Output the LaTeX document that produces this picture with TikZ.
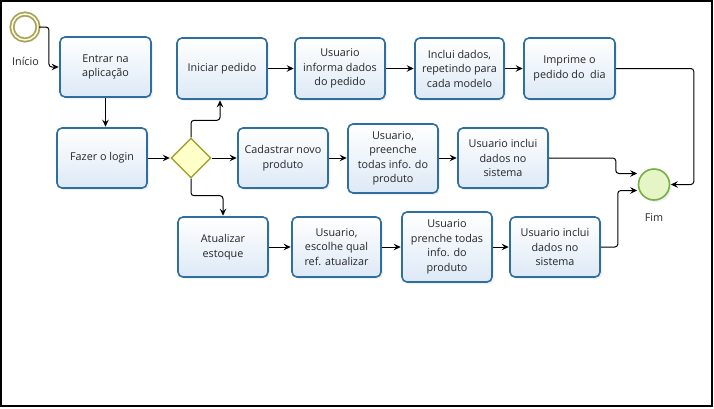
\documentclass[tikz,border=0pt]{standalone}
\usepackage{fontspec}
\setmainfont{Open Sans}
\usepackage{tikz}
\usetikzlibrary{shapes.geometric,shadows,arrows.meta}
\definecolor{taskline}{HTML}{2F6F9F}
\definecolor{taskfill}{HTML}{DDE9F6}
\definecolor{gateline}{HTML}{A3A335}
\definecolor{gatefill}{HTML}{FFFFC8}
\definecolor{startline}{HTML}{A9A15E}
\definecolor{endline}{HTML}{74B044}
\definecolor{endfill}{HTML}{E6F5C6}
\begin{document}
\begin{tikzpicture}[x=1pt,y=-1pt]
\tikzset{task/.style={ %
		draw=taskline,
		line width=1.6pt,
		rounded corners=5pt,
		top color=white,
		bottom color=taskfill,
		minimum width=90pt,
		minimum height=60pt,
		align=center,
		inner sep=2pt,
		text=black!85,
		font=\fontsize{10.8}{14.5}\selectfont,
		drop shadow={opacity=0.12,shadow xshift=2pt,shadow yshift=-2pt} %
	},
	flow/.style={ %
		-{Stealth[length=7pt,width=6.5pt,inset=2.5pt]},
		line width=1pt,
		rounded corners=3pt,
		shorten >=0.5pt %
	},
	gate/.style={ %
		diamond,
		draw=gateline,
		line width=1.4pt,
		fill=gatefill,
		inner sep=0pt,
		minimum size=40pt %
	},
	lbl/.style={font=\fontsize{10.8}{13}\selectfont,text=black!85}
}
\useasboundingbox (0,0) rectangle (714,408);
\draw[line width=1.5pt] (0.75,0.75) rectangle (712,406);
\node[circle,draw=startline,line width=1.8pt,double=gatefill!60,double distance=1.5pt,fill=white,minimum size=26pt,inner sep=0pt,drop shadow={opacity=0.12,shadow xshift=2pt,shadow yshift=-2pt}] (inicio) at (25,27) {};
\node[lbl] (inicioL) at (25.5,61) {Início};
\node[task,minimum width=91pt] (entrar) at (105.5,67) {Entrar na\\aplicação};
\node[task] (login) at (102,158) {Fazer o login};
\node[gate] (gw) at (191,158) {};
\node[task,minimum height=61pt] (iniciar) at (222,68.5) {Iniciar pedido};
\node[task,minimum height=61pt] (informa) at (340,68.5) {Usuario\\informa dados\\do pedido};
\node[task,minimum width=89pt,minimum height=61pt] (inclui) at (459.5,68.5) {Inclui dados,\\repetindo para\\cada modelo};
\node[task,minimum width=91pt,minimum height=61pt] (imprime) at (569.5,68.5) {Imprime o\\pedido do~ dia};
\node[task] (cadastrar) at (283,158) {Cadastrar novo\\produto};
\node[task,minimum height=69pt] (preenche) at (393,158.5) {Usuario,\\preenche\\todas info. do\\produto};
\node[task] (incluiB) at (503,158) {Usuario inclui\\dados no\\sistema};
\node[task] (atualizar) at (223,247) {Atualizar\\estoque};
\node[task,minimum width=89pt] (escolhe) at (336.5,247) {Usuario,\\escolhe qual\\ref. atualizar};
\node[task,minimum height=70pt] (prenche) at (447,247) {Usuario\\prenche todas\\info. do\\produto};
\node[task] (incluiC) at (555,247) {Usuario inclui\\dados no\\sistema};
\node[circle,draw=endline,line width=1.6pt,fill=endfill,minimum size=31pt,inner sep=0pt,drop shadow={opacity=0.12,shadow xshift=2pt,shadow yshift=-2pt}] (fim) at (654,184.5) {};
\node[lbl] (fimL) at (654,218) {Fim};
\draw[flow] (inicio.east) -- ++(10,0) |- (entrar.west);
\draw[flow] (entrar.south) -- (entrar.south |- login.north);
\draw[flow] (login.east) -- (gw.west);
\draw[flow] (gw.north) -- ++(0,-17) -| ([xshift=-2pt]iniciar.south);
\draw[flow] (gw.east) -- (cadastrar.west);
\draw[flow] (gw.south) -- ++(0,17) -| (atualizar.north);
\draw[flow] (iniciar.east) -- (informa.west);
\draw[flow] (informa.east) -- (inclui.west);
\draw[flow] (inclui.east) -- (imprime.west);
\draw[flow] (imprime.east) -- ++(78,0) |- (fim.east);
\draw[flow] (cadastrar.east) -- (cadastrar.east -| preenche.west);
\draw[flow] (preenche.east |- incluiB.west) -- (incluiB.west);
\draw[flow] (incluiB.east) -- ++(67,0) |- ([yshift=11pt]fim.west);
\draw[flow] (atualizar.east) -- (escolhe.west);
\draw[flow] (escolhe.east) -- (escolhe.east -| prenche.west);
\draw[flow] (prenche.east |- incluiC.west) -- (incluiC.west);
\draw[flow] (incluiC.east) -- ++(17,0) |- ([yshift=-6pt]fim.west);
\end{tikzpicture}
\end{document}
